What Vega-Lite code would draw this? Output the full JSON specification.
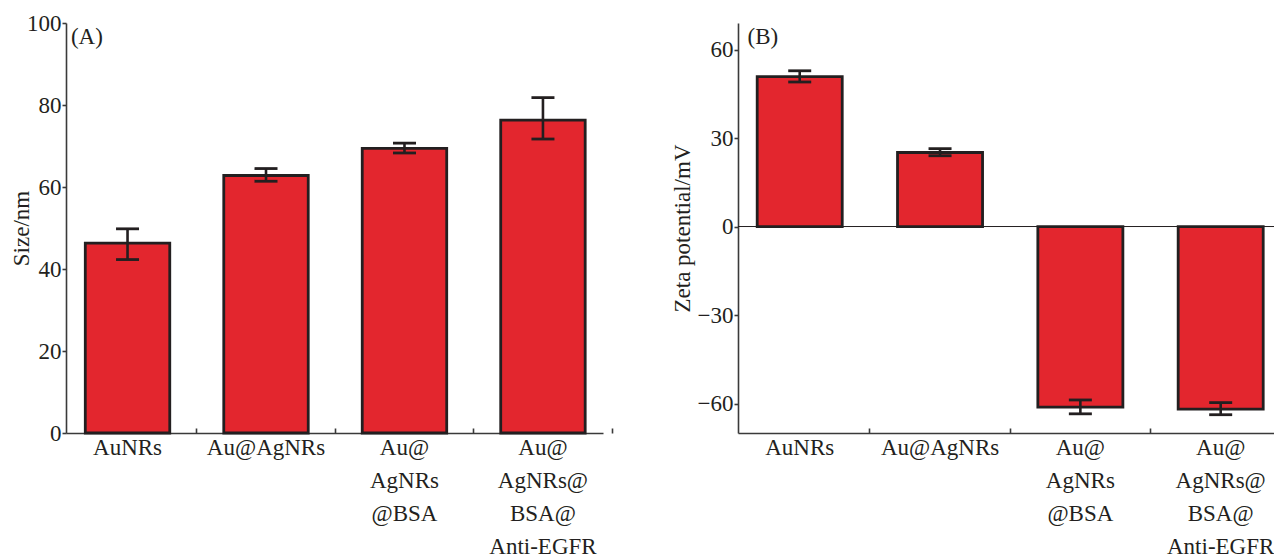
{
  "$schema": "https://vega.github.io/schema/vega-lite/v6.json",
  "padding": {"left": 10, "top": 12, "right": 0, "bottom": 0},
  "background": "white",
  "config": {
    "view": {"stroke": null},
    "font": "Liberation Serif",
    "axis": {
      "labelFont": "Liberation Serif",
      "titleFont": "Liberation Serif",
      "labelFontSize": 23,
      "titleFontSize": 23,
      "titleFontWeight": "normal",
      "labelColor": "#231F20",
      "titleColor": "#231F20",
      "domainColor": "#3a3a3a",
      "domainWidth": 1.6,
      "tickColor": "#3a3a3a",
      "tickWidth": 1.6,
      "grid": false
    }
  },
  "datasets": {
    "size": [
      {"sample": "AuNRs", "value": 46.3, "lo": 42.3, "hi": 49.8},
      {"sample": "Au@AgNRs", "value": 62.8, "lo": 61.4, "hi": 64.5},
      {"sample": "Au@|AgNRs|@BSA", "value": 69.4, "lo": 68.3, "hi": 70.7},
      {"sample": "Au@|AgNRs@|BSA@|Anti-EGFR", "value": 76.3, "lo": 71.7, "hi": 81.8}
    ],
    "zeta": [
      {"sample": "AuNRs", "value": 50.8, "lo": 49.0, "hi": 52.8},
      {"sample": "Au@AgNRs", "value": 25.1, "lo": 24.0, "hi": 26.4},
      {"sample": "Au@|AgNRs|@BSA", "value": -61.2, "lo": -63.5, "hi": -58.8},
      {"sample": "Au@|AgNRs@|BSA@|Anti-EGFR", "value": -61.9, "lo": -63.8, "hi": -59.7}
    ]
  },
  "spacing": 58,
  "hconcat": [
    {
      "width": 537,
      "height": 410,
      "data": {"name": "size"},
      "encoding": {
        "x": {
          "field": "sample", "type": "nominal", "sort": null,
          "scale": {"paddingInner": 0.39, "paddingOuter": 0.134, "align": 0.52},
          "axis": {
            "title": null, "labelAngle": 0,
            "labelExpr": "split(datum.label, '|')",
            "labelLineHeight": 33,
            "bandPosition": 1.32,
            "tickSize": -5, "labelPadding": 8
          }
        }
      },
      "layer": [
        {
          "mark": {"type": "bar", "fill": "#E3262E", "stroke": "#231F20", "strokeWidth": 2.8},
          "encoding": {
            "y": {
              "field": "value", "type": "quantitative",
              "scale": {"domain": [0, 100], "nice": false},
              "axis": {"title": "Size/nm", "values": [0, 20, 40, 60, 80, 100], "tickSize": 4, "labelPadding": 1, "titlePadding": -7}
            }
          }
        },
        {
          "mark": {"type": "rule", "color": "#231F20", "strokeWidth": 2.6},
          "encoding": {"y": {"field": "lo", "type": "quantitative"}, "y2": {"field": "hi"}}
        },
        {
          "mark": {"type": "tick", "color": "#231F20", "size": 23, "thickness": 2.8, "opacity": 1},
          "encoding": {"y": {"field": "lo", "type": "quantitative"}}
        },
        {
          "mark": {"type": "tick", "color": "#231F20", "size": 23, "thickness": 2.8, "opacity": 1},
          "encoding": {"y": {"field": "hi", "type": "quantitative"}}
        },
        {
          "data": {"values": [{"panel": "(A)"}]},
          "mark": {"type": "text", "font": "Liberation Serif", "fontSize": 23, "fill": "#231F20", "align": "left", "baseline": "alphabetic", "dy": 21},
          "encoding": {
            "text": {"field": "panel"},
            "x": {"datum": "AuNRs", "type": "nominal", "bandPosition": -0.17},
            "y": {"datum": 100, "type": "quantitative"}
          }
        }
      ]
    },
    {
      "width": 538,
      "height": 410,
      "layer": [
        {
          "data": {"values": [{"level": 0}]},
          "mark": {"type": "rule", "color": "#231F20", "strokeWidth": 1},
          "encoding": {"y": {"field": "level", "type": "quantitative"}}
        },
        {
          "data": {"name": "zeta"},
          "mark": {"type": "bar", "fill": "#E3262E", "stroke": "#231F20", "strokeWidth": 2.8},
          "encoding": {
            "x": {
              "field": "sample", "type": "nominal", "sort": null,
              "scale": {"paddingInner": 0.394, "paddingOuter": 0.114, "align": 0.6},
              "axis": {
                "title": null, "labelAngle": 0,
                "labelExpr": "split(datum.label, '|')",
                "labelLineHeight": 33,
                "bandPosition": 1.325,
                "tickSize": -5, "labelPadding": 8
              }
            },
            "y": {
              "field": "value", "type": "quantitative",
              "scale": {"domain": [-70, 69], "nice": false, "zero": false},
              "axis": {"title": "Zeta potential/mV", "values": [-60, -30, 0, 30, 60], "tickSize": 4, "labelPadding": 1, "titlePadding": 3}
            }
          }
        },
        {
          "data": {"name": "zeta"},
          "mark": {"type": "rule", "color": "#231F20", "strokeWidth": 2.6},
          "encoding": {
            "x": {"field": "sample", "type": "nominal", "sort": null},
            "y": {"field": "lo", "type": "quantitative"},
            "y2": {"field": "hi"}
          }
        },
        {
          "data": {"name": "zeta"},
          "mark": {"type": "tick", "color": "#231F20", "size": 23, "thickness": 2.8, "opacity": 1},
          "encoding": {
            "x": {"field": "sample", "type": "nominal", "sort": null},
            "y": {"field": "lo", "type": "quantitative"}
          }
        },
        {
          "data": {"name": "zeta"},
          "mark": {"type": "tick", "color": "#231F20", "size": 23, "thickness": 2.8, "opacity": 1},
          "encoding": {
            "x": {"field": "sample", "type": "nominal", "sort": null},
            "y": {"field": "hi", "type": "quantitative"}
          }
        },
        {
          "data": {"values": [{"panel": "(B)"}]},
          "mark": {"type": "text", "font": "Liberation Serif", "fontSize": 23, "fill": "#231F20", "align": "left", "baseline": "alphabetic", "dy": 21},
          "encoding": {
            "text": {"field": "panel"},
            "x": {"datum": "AuNRs", "type": "nominal", "bandPosition": -0.113},
            "y": {"datum": 69, "type": "quantitative"}
          }
        }
      ]
    }
  ]
}
